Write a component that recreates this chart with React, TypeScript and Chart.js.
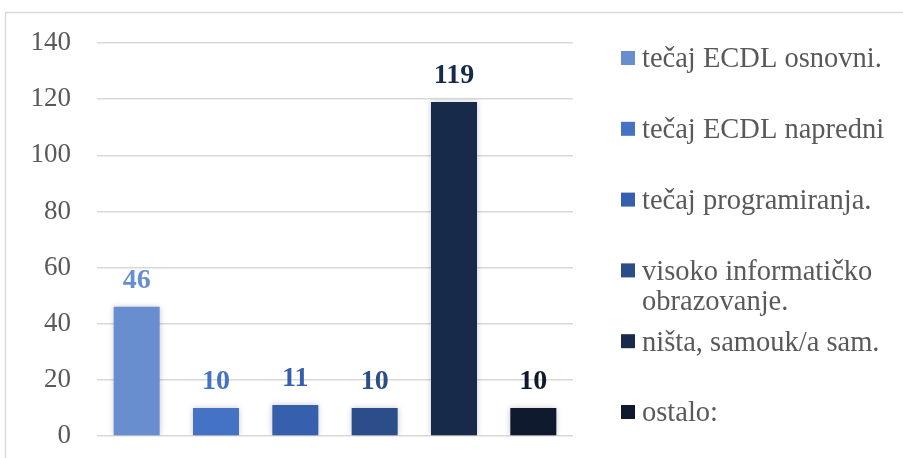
import React, { useEffect, useRef } from 'react';
import { Chart, registerables } from 'chart.js';

Chart.register(...registerables);

const seriesNames = [
  'tečaj ECDL osnovni.',
  'tečaj ECDL napredni',
  'tečaj programiranja.',
  'visoko informatičko obrazovanje.',
  'ništa, samouk/a sam.',
  'ostalo:',
];
const legendLines = [
  ['tečaj ECDL osnovni.'],
  ['tečaj ECDL napredni'],
  ['tečaj programiranja.'],
  ['visoko informatičko', 'obrazovanje.'],
  ['ništa, samouk/a sam.'],
  ['ostalo:'],
];
const values = [46, 10, 11, 10, 119, 10];
const colors = ['#698ED0', '#4472C4', '#3660AE', '#2B4D8A', '#182A4A', '#0F1A2E'];
const yMin = 0;
const yMax = 140;
const yStep = 20;

const SERIF = '"Liberation Serif", "Times New Roman", serif';

const frameAndShadow = {
  id: 'frameAndShadow',
  beforeDraw(chart: any) {
    const ctx = chart.ctx;
    ctx.save();
    ctx.fillStyle = '#ffffff';
    ctx.fillRect(0, 0, chart.width, chart.height);
    ctx.strokeStyle = '#d9d9d9';
    ctx.lineWidth = 1.5;
    ctx.strokeRect(5.5, 12.5, chart.width + 20, chart.height + 20);
    ctx.restore();
  },
  beforeDatasetsDraw(chart: any) {
    const ctx = chart.ctx;
    ctx.save();
    ctx.shadowColor = 'rgba(0,0,0,0.22)';
    ctx.shadowBlur = 6;
    ctx.shadowOffsetX = 0;
    ctx.shadowOffsetY = 0;
  },
  afterDatasetsDraw(chart: any) {
    const ctx = chart.ctx;
    ctx.restore();
    ctx.save();
    ctx.font = `bold 28px ${SERIF}`;
    ctx.textAlign = 'center';
    ctx.textBaseline = 'alphabetic';
    chart.data.datasets.forEach((ds: any, i: number) => {
      const meta = chart.getDatasetMeta(i);
      meta.data.forEach((el: any, j: number) => {
        ctx.fillStyle = ds.backgroundColor;
        ctx.fillText(String(ds.data[j]), el.x, el.y - 19);
      });
    });
    ctx.restore();
  },
  afterDraw(chart: any) {
    const ctx = chart.ctx;
    ctx.save();
    ctx.font = `28.5px ${SERIF}`;
    ctx.textAlign = 'left';
    ctx.textBaseline = 'middle';
    const boxX = 621;
    const textX = 642;
    const y0 = 58;
    const step = 70.8;
    legendLines.forEach((lines, i) => {
      const cy = y0 + i * step;
      ctx.fillStyle = colors[i];
      ctx.fillRect(boxX, cy - 7, 14, 14);
      ctx.fillStyle = '#595959';
      lines.forEach((ln, k) => {
        ctx.fillText(ln, textX, cy + 2 + k * 30);
      });
    });
    ctx.restore();
  },
};

export default function App() {
  const ref = useRef<HTMLCanvasElement | null>(null);
  useEffect(() => {
    document.body.style.margin = '0';
    if (!ref.current) return;
    const chart = new Chart(ref.current, {
      type: 'bar',
      data: {
        labels: [''],
        datasets: seriesNames.map((name, i) => ({
          label: name,
          data: [values[i]],
          backgroundColor: colors[i],
          borderWidth: 0,
          categoryPercentage: 1,
          barPercentage: 0.58,
        })),
      },
      options: {
        responsive: false,
        animation: false,
        layout: { padding: { left: 0, right: 330, top: 43, bottom: 22 } },
        plugins: {
          legend: { display: false },
          tooltip: { enabled: false },
          title: { display: false },
        },
        scales: {
          x: {
            display: false,
          },
          y: {
            min: yMin,
            max: yMax,
            ticks: {
              stepSize: yStep,
              padding: 26,
              color: '#595959',
              font: { family: SERIF, size: 27 },
            },
            grid: { color: '#d9d9d9', lineWidth: 1.4, drawTicks: false },
            border: { display: false },
            afterFit(scale: any) {
              scale.width = 97;
              scale.paddingTop = 0;
              scale.paddingBottom = 0;
            },
          },
        },
      },
      plugins: [frameAndShadow],
    });
    return () => chart.destroy();
  }, []);
  return (
    <div style={{ width: 903, height: 458 }}>
      <canvas ref={ref} width={903} height={458} style={{ display: 'block' }} />
    </div>
  );
}
